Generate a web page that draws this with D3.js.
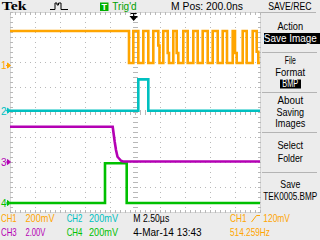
<!DOCTYPE html>
<html><head><meta charset="utf-8">
<script src="https://cdn.jsdelivr.net/npm/d3@7"></script>
<style>
body{margin:0;background:#ececec;}
svg{display:block;}
text{font-family:"Liberation Sans Narrow","Liberation Sans",Arial,sans-serif;}
</style>
</head><body>
<svg id="c" width="320" height="240"></svg>
<script>
// ---- data (time in µs relative to screen centre, values in volts) ----
const ch1Time  = [-12.5,-0.6,-0.17,0.33,0.83,1.33,1.83,2.33,2.45,2.83,3.27,3.4,3.83,4.17,4.33,4.83,5.27,5.83,6.27,6.77,7.27,7.77,8.27,8.77,9.2,9.77,10.0,10.17,10.77,11.17,11.77,12.17,12.33,12.5];
const ch1Volts = [0.276,0.02,0.276,0.02,0.276,0.02,0.276,0.16,0.02,0.276,0.1,0.02,0.276,0.1,0.02,0.276,0.02,0.276,0.02,0.276,0.02,0.276,0.02,0.276,0.02,0.276,0.1,0.02,0.276,0.02,0.276,0.11,0.02,0.02];
const ch2Time  = [-12.5,0.33,1.33,12.5];
const ch2Volts = [0,0.251,0,0];
const ch3Time  = [-12.5,-2.23,-2.2,-2.03,-1.9,-1.75,-1.55,-1.4,-1.2,12.5];
const ch3Volts = [2.82,2.82,2.64,1.62,0.96,0.42,0.24,0.1,0.04,0.04];
const ch4Time  = [-12.5,-3.0,-0.83,12.5];
const ch4Volts = [0,0.318,0,0];

const channelNames  = ["CH1","CH2","CH3","CH4"];
const channelScales = ["200mV","200mV","2.00V","200mV"];
const channelVdiv   = [0.2,0.2,2.0,0.2];
const menuTitle = "SAVE/REC";
const menuItems = ["Action","Save Image","File","Format","BMP","About","Saving","Images","Select","Folder","Save","TEK0005.BMP"];
const timebase = "M 2.50µs";
const dateText = "4-Mar-14 13:43";
const trigLevel = "120mV";
const freqText = "514.259Hz";
const mPos = "M Pos: 200.0ns";

// ---- layout ----
const colors = ["#ffa500","#00c0c0","#b400b4","#00c000"];
const pos = [1.86,0.052,-2.0,-3.64];
const L=10,R=260,T=12,B=212;
const svg = d3.select("#c");
const x = d3.scaleLinear().domain([-12.5,12.5]).range([L,R]);
const y = d3.scaleLinear().domain([-4,4]).range([B,T]);

svg.append("rect").attr("width",320).attr("height",240).attr("fill","#ececec");
svg.append("rect").attr("x",L).attr("y",T).attr("width",R-L).attr("height",B-T).attr("fill","#ffffff");

const g = svg.append("g");
const gc = "#b8b8b8";
for (let i=1;i<10;i++){ if(i===5) continue;
  const xx=L+i*25+0.5;
  g.append("line").attr("x1",xx).attr("x2",xx).attr("y1",T).attr("y2",B+1)
   .attr("stroke",gc).attr("stroke-dasharray","1 4");
}
for (let j=1;j<8;j++){ if(j===4) continue;
  const yy=T+j*25+0.5;
  g.append("line").attr("x1",L).attr("x2",R+1).attr("y1",yy).attr("y2",yy)
   .attr("stroke",gc).attr("stroke-dasharray","1 4");
}
for (let yy=T; yy<=B; yy+=5){
  g.append("line").attr("x1",133).attr("x2",138).attr("y1",yy+0.5).attr("y2",yy+0.5).attr("stroke",gc);
}
for (let xx=L; xx<=R; xx+=5){
  g.append("line").attr("x1",xx+0.5).attr("x2",xx+0.5).attr("y1",110).attr("y2",115).attr("stroke",gc);
}
g.append("rect").attr("x",L+0.5).attr("y",T+0.5).attr("width",R-L).attr("height",B-T)
 .attr("fill","none").attr("stroke","#d6d6d6");
for (let xx=L; xx<=R; xx+=5){
  g.append("line").attr("x1",xx+0.5).attr("x2",xx+0.5).attr("y1",T).attr("y2",T+3).attr("stroke",gc);
  g.append("line").attr("x1",xx+0.5).attr("x2",xx+0.5).attr("y1",B-2).attr("y2",B+1).attr("stroke",gc);
}
for (let yy=T; yy<=B; yy+=5){
  g.append("line").attr("x1",L).attr("x2",L+3).attr("y1",yy+0.5).attr("y2",yy+0.5).attr("stroke",gc);
  g.append("line").attr("x1",R-2).attr("x2",R+1).attr("y1",yy+0.5).attr("y2",yy+0.5).attr("stroke",gc);
}

// ---- traces ----
svg.append("clipPath").attr("id","clip").append("rect").attr("x",L).attr("y",T).attr("width",R-L+1).attr("height",B-T+1);
const series = [
  {t:ch4Time,v:ch4Volts,c:3,step:true},
  {t:ch3Time,v:ch3Volts,c:2,step:false},
  {t:ch2Time,v:ch2Volts,c:1,step:true},
  {t:ch1Time,v:ch1Volts,c:0,step:true}
];
series.forEach(s=>{
  const pts = s.t.map((t,i)=>({t:t,v:s.v[i]}));
  const line = d3.line().x(d=>x(d.t)).y(d=>y(d.v/channelVdiv[s.c]+pos[s.c]))
     .curve(s.step?d3.curveStepAfter:d3.curveLinear);
  svg.append("path").attr("d",line(pts)).attr("fill","none")
     .attr("stroke",colors[s.c]).attr("stroke-width",2.6).attr("clip-path","url(#clip)");
});

// ---- channel markers ----
[0,1,2,3].forEach(i=>{
  const yy = y(pos[i]);
  svg.append("text").attr("x",1).attr("y",yy+3.8).attr("font-size",10).attr("fill",colors[i]).text(String(i+1));
  svg.append("path").attr("d",`M6,${yy} H8 M7.5,${yy-2.5} L10.5,${yy} L7.5,${yy+2.5} Z`)
     .attr("stroke",colors[i]).attr("fill",colors[i]).attr("stroke-width",1);
});

svg.append("path").attr("d","M130.7,13.5 H136.7 M133.7,13.5 V17 M130.7,16.5 L136.7,16.5 L133.7,20 Z")
   .attr("stroke","#000").attr("fill","#000").attr("stroke-width",1.2);

// text placed by horizontal scaling to a measured target width
function txt(str,x0,yb,color,len,size,extra){
  const grp = svg.append("g");
  const t = grp.append("text").attr("x",0).attr("y",0).attr("fill",color)
     .attr("font-size",size||10).text(str);
  if(extra) extra(t);
  let sx = 1;
  if(len){ const w = t.node().getComputedTextLength(); if(w>0) sx = len/w; }
  grp.attr("transform",`translate(${x0},${yb}) scale(${sx},1)`);
  return t;
}

txt("Tek",1.7,10,"#000",25,11.5,t=>t.style("font-family","'Liberation Serif',serif").attr("font-weight","bold"));
svg.append("path").attr("d","M50,9.5 H55 V3 H57 V5 H58.5 V3 H61 V9.5 H68").attr("fill","none").attr("stroke","#000").attr("stroke-width",1);
svg.append("rect").attr("x",100).attr("y",2.5).attr("width",8.5).attr("height",8.5).attr("fill","#00b000");
txt("T",101.5,10,"#fff",5.5,9,t=>t.attr("font-weight","bold"));
txt("Trig'd",112.3,9.5,"#00a000",24.4,10.5);
txt(mPos,171,9.5,"#000",72,10.5);
txt(menuTitle,268.3,9.5,"#000",43.4,10.5);
svg.append("line").attr("x1",261).attr("x2",316).attr("y1",12.5).attr("y2",12.5).attr("stroke","#b4b4b4");

const mc = 290.3;
const menuLayout = [
  [29.5,25.7,false],[41.7,53,true],[64,11,false],[75.7,30,false],[86.7,16,true],
  [104,25.7,false],[115.7,27.7,false],[127,30,false],[149.3,25.7,false],[161.7,25,false],
  [188.3,20,false],[200,54,false]
];
menuItems.forEach((m,i)=>{
  const [yb,len,hl] = menuLayout[i];
  if(hl){
    if(m==="BMP") svg.append("rect").attr("x",280).attr("y",79.5).attr("width",21).attr("height",9).attr("fill","#000");
    else svg.append("rect").attr("x",264).attr("y",33).attr("width",56).attr("height",11).attr("fill","#000");
  }
  txt(m,mc-len/2,yb,hl?"#fff":"#000",len,10);
});
[52.5,92.5,132.5,172.5].forEach(yy=>{
  svg.append("line").attr("x1",262).attr("x2",317).attr("y1",yy).attr("y2",yy).attr("stroke","#b4b4b4");
});

const rows=[222,236];
const colX=[[1,25.5],[66.7,89]];
[0,1,2,3].forEach(i=>{
  const r = Math.floor(i/2), c = i%2;
  txt(channelNames[i],colX[c][0],rows[r],colors[i],15.7,10);
  const vl = channelScales[i]==="2.00V"?20:29;
  txt(channelScales[i],colX[c][1],rows[r],colors[i],vl,10);
});
txt(timebase,133.3,222,"#000",36,10);
txt(dateText,133.3,236,"#000",68.4,10);
txt("CH1",230,222,colors[0],16.5,10);
svg.append("path").attr("d","M251.5,222 L256.5,215.5 H260").attr("fill","none").attr("stroke",colors[0]).attr("stroke-width",1);
txt(trigLevel,263.3,222,colors[0],26.7,10);
txt(freqText,230,236,colors[0],40,10);
</script>
</body></html>
